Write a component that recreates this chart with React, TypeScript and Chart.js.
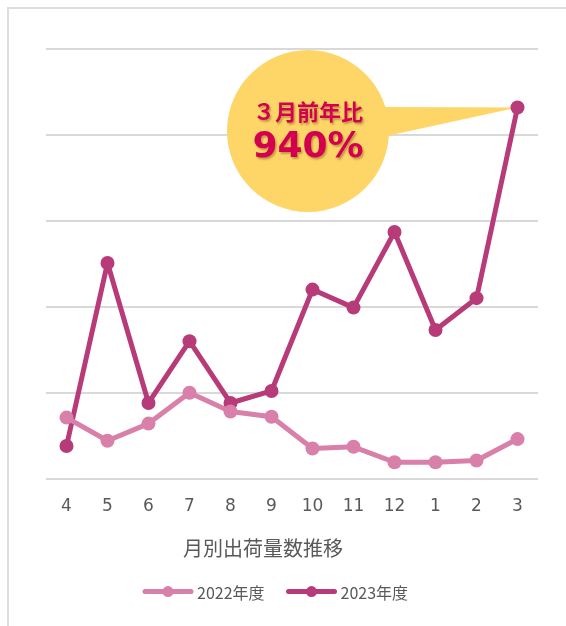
import React, { useEffect, useRef } from "react";
import { Chart, registerables } from "chart.js";

Chart.register(...registerables);

const months = ["4", "5", "6", "7", "8", "9", "10", "11", "12", "1", "2", "3"];
const series2022 = [71, 44, 64, 100, 78, 72, 35, 37, 19, 19, 21, 46];
const series2023 = [38, 251, 88, 160, 88, 102, 220, 199, 287, 173, 210, 432];
const seriesNames = ["2022年度", "2023年度"];
const axisTitle = "月別出荷量数推移";
const calloutLine1 = "３月前年比";
const calloutLine2 = "940%";

const COLOR_2022 = "#d880aa";
const COLOR_2023 = "#b73b78";
const YELLOW = "#fed667";
const TEXT_RED = "#d4004f";
const GREY_TEXT = "#595959";

const calloutPlugin = {
  id: "callout",
  beforeDatasetsDraw(chart: any) {
    const meta = chart.getDatasetMeta(1);
    const last = meta.data[meta.data.length - 1];
    if (!last) return;
    const ca = chart.chartArea;
    const cx = ca.left + 262;
    const cy = ca.top + 82;
    const r = 81;
    const ctx = chart.ctx;
    ctx.save();
    ctx.fillStyle = YELLOW;
    ctx.beginPath();
    ctx.arc(cx, cy, r, 0, Math.PI * 2);
    ctx.fill();
    ctx.beginPath();
    ctx.moveTo(cx + 72, cy - 24);
    ctx.lineTo(last.x, last.y);
    ctx.lineTo(cx + 74, cy + 6);
    ctx.closePath();
    ctx.fill();

    ctx.textAlign = "center";
    ctx.textBaseline = "middle";
    ctx.shadowColor = "rgba(90,40,0,0.35)";
    ctx.shadowOffsetX = 1.5;
    ctx.shadowOffsetY = 1.5;
    ctx.shadowBlur = 2;
    ctx.fillStyle = TEXT_RED;
    ctx.font = "bold 22px 'Noto Sans CJK JP', sans-serif";
    ctx.fillText(calloutLine1, cx, cy - 19);
    ctx.font = "bold 36px 'DejaVu Sans', sans-serif";
    ctx.fillText(calloutLine2, cx, cy + 17);
    ctx.restore();
  },
};

// Title and legend under the x axis, drawn from the chart's own datasets.
const footerPlugin = {
  id: "footer",
  afterDraw(chart: any) {
    const ca = chart.chartArea;
    const mid = (ca.left + ca.right) / 2;
    const ctx = chart.ctx;
    ctx.save();
    ctx.fillStyle = GREY_TEXT;
    ctx.textAlign = "center";
    ctx.textBaseline = "middle";
    ctx.font = "20px 'Noto Sans CJK JP', sans-serif";
    ctx.fillText(axisTitle, mid - 29, ca.bottom + 70);

    ctx.font = "16px 'Noto Sans CJK JP', sans-serif";
    ctx.textAlign = "left";
    const y = ca.bottom + 113;
    let x = mid - 149;
    chart.data.datasets.forEach((ds: any) => {
      ctx.strokeStyle = ds.borderColor;
      ctx.fillStyle = ds.borderColor;
      ctx.lineWidth = 5;
      ctx.lineCap = "round";
      ctx.beginPath();
      ctx.moveTo(x + 2, y);
      ctx.lineTo(x + 48, y);
      ctx.stroke();
      ctx.beginPath();
      ctx.arc(x + 25, y, 5.5, 0, Math.PI * 2);
      ctx.fill();
      ctx.fillStyle = GREY_TEXT;
      ctx.fillText(ds.label, x + 54, y + 1);
      const w = ctx.measureText(ds.label).width;
      x = x + 54 + w + 22;
    });
    ctx.restore();
  },
};

export default function App() {
  const ref = useRef<HTMLCanvasElement | null>(null);

  useEffect(() => {
    if (!ref.current) return;
    const chart = new Chart(ref.current, {
      type: "line",
      data: {
        labels: months,
        datasets: [
          {
            label: seriesNames[0],
            data: series2022,
            borderColor: COLOR_2022,
            backgroundColor: COLOR_2022,
            borderWidth: 5,
            borderJoinStyle: "round",
            borderCapStyle: "round",
            pointRadius: 7,
            pointBackgroundColor: COLOR_2022,
            pointBorderWidth: 0,
            tension: 0,
          } as any,
          {
            label: seriesNames[1],
            data: series2023,
            borderColor: COLOR_2023,
            backgroundColor: COLOR_2023,
            borderWidth: 5,
            borderJoinStyle: "round",
            borderCapStyle: "round",
            pointRadius: 7,
            pointBackgroundColor: COLOR_2023,
            pointBorderWidth: 0,
            tension: 0,
          } as any,
        ],
      },
      options: {
        animation: false,
        responsive: false,
        maintainAspectRatio: false,
        layout: { padding: { left: 38, right: 28, top: 41, bottom: 91 } },
        elements: { point: { pointStyle: "circle" } },
        plugins: {
          tooltip: { enabled: false },
          title: { display: false },
          legend: { display: false },
        },
        scales: {
          x: {
            offset: true,
            grid: { display: false, drawTicks: false },
            border: { display: false },
            ticks: {
              color: GREY_TEXT,
              padding: 18,
              font: { size: 17, family: "'DejaVu Sans', sans-serif" },
            },
          },
          y: {
            min: 0,
            max: 500,
            ticks: { display: false, stepSize: 100 },
            grid: { color: "#d9d9d9", lineWidth: 2, drawTicks: false },
            border: { display: false },
          },
        },
      },
      plugins: [calloutPlugin, footerPlugin],
    } as any);
    return () => chart.destroy();
  }, []);

  return (
    <div>
      <div
        style={{
          position: "fixed",
          left: 7,
          top: 7,
          right: -20,
          bottom: -20,
          border: "2px solid #dedede",
          pointerEvents: "none",
        }}
      />
      <div style={{ position: "relative", width: 558, height: 618 }}>
        <canvas ref={ref} width={558} height={618} />
      </div>
    </div>
  );
}
